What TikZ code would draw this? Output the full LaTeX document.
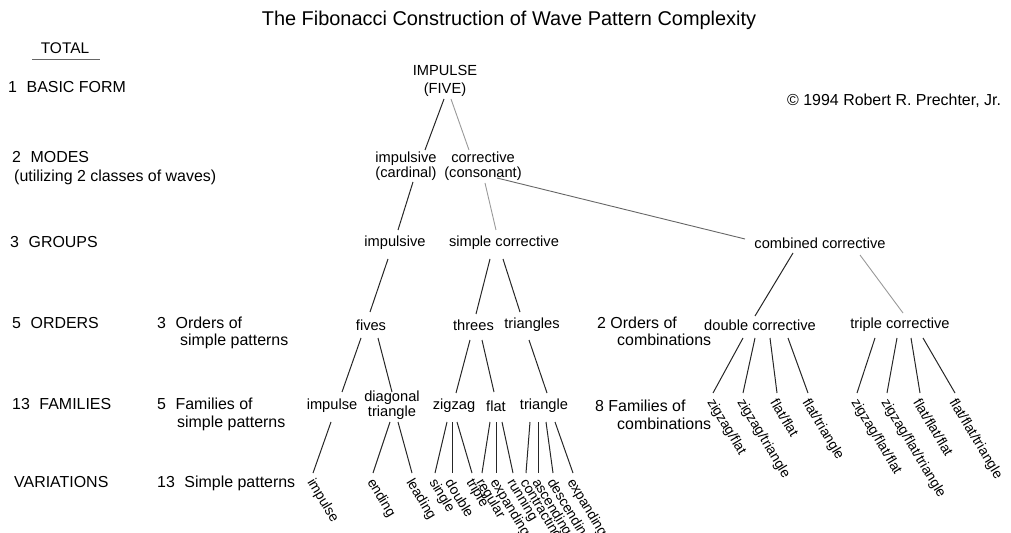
\documentclass[tikz,border=0pt]{standalone}
\usepackage{fontspec}
\setmainfont{Liberation Sans}
\usetikzlibrary{calc}
\newcommand\numgap{\hspace{0.6em}}
\begin{document}
\begin{tikzpicture}[x=1bp,y=-1bp,
  tree/.style={inner sep=0pt, align=center, font=\fontsize{14.7}{15}\selectfont},
  side/.style={anchor=base west, inner sep=0pt, font=\fontsize{16}{17}\selectfont},
  var/.style={anchor=west, inner sep=0pt, rotate=-59, font=\fontsize{14}{15}\selectfont},
  dk/.style={draw=black!85, line width=1bp},
  lt/.style={draw=black!40, line width=0.9bp},
  md/.style={draw=black!60, line width=0.9bp}]
\useasboundingbox (0,0) rectangle (1011,533);
% title and copyright
\node[inner sep=0pt, font=\fontsize{20}{22}\selectfont] (title) at (509,20) {The Fibonacci Construction of Wave Pattern Complexity};
\node[side] (copy) at (787,106) {\textcopyright\ 1994 Robert R. Prechter, Jr.};
% left column
\node[inner sep=0pt, font=\fontsize{15.5}{16}\selectfont] (total) at (65,48) {TOTAL};
\draw[md] ($(total)+(-33,11)$) -- ($(total)+(35,11)$);
\node[side] (l1) at (8,93) {1\numgap BASIC FORM};
\node[side] (l2) at (12,163) {2\numgap MODES};
\node[side] (l2b) at (14,182) {(utilizing 2 classes of waves)};
\node[side] (l3) at (10,248) {3\numgap GROUPS};
\node[side] (l5) at (12,329) {5\numgap ORDERS};
\node[side] (l5a) at (157,329) {3\numgap Orders of};
\node[side] (l5b) at (180,346) {simple patterns};
\node[side] (l13) at (12,409) {13\numgap FAMILIES};
\node[side] (l13a) at (157,409) {5\numgap Families of};
\node[side] (l13b) at (177,427) {simple patterns};
\node[side] (lv) at (14,487) {VARIATIONS};
\node[side] (lva) at (157,487) {13\numgap Simple patterns};
\node[side] (r5a) at (597,329) {2 Orders of};
\node[side] (r5b) at (617,346) {combinations};
\node[side] (r13a) at (595,411) {8 Families of};
\node[side] (r13b) at (617,429) {combinations};
% tree nodes
\node[tree, font=\fontsize{14.7}{18}\selectfont] (impulse5) at (445,81) {IMPULSE\\(FIVE)};
\node[tree] (impcard) at (406,166) {impulsive\\(cardinal)};
\node[tree] (corrcons) at (483,166) {corrective\\(consonant)};
\node[tree] (gimp) at (395,243) {impulsive};
\node[tree] (gsimple) at (504,243) {simple corrective};
\node[tree] (gcomb) at (820,243) {combined corrective};
\node[tree] (fives) at (371,325) {fives};
\node[tree] (threes) at (473.5,325) {threes};
\node[tree] (triangles) at (532,325) {triangles};
\node[tree] (odbl) at (760,325) {double corrective};
\node[tree] (otpl) at (900,325) {triple corrective};
\node[tree] (fimp) at (332,406) {impulse};
\node[tree, font=\fontsize{14.7}{13}\selectfont] (fdiag) at (392,405) {diagonal\\triangle};
\node[tree] (fzig) at (454,406) {zigzag};
\node[tree] (fflat) at (496,406) {flat};
\node[tree] (ftri) at (544,406) {triangle};
% variations
\node[var] (v1) at (310,480) {impulse};
\node[var] (v2) at (370,480) {ending};
\node[var] (v3) at (409,480) {leading};
\node[var] (v4) at (432,480) {single};
\node[var] (v5) at (449,480) {double};
\node[var] (v6) at (469,480) {triple};
\node[var] (v7) at (479,480) {regular};
\node[var] (v8) at (493,480) {expanding};
\node[var] (v9) at (510,480) {running};
\node[var] (v10) at (523,480) {contracting};
\node[var] (v11) at (535,480) {ascending};
\node[var] (v12) at (550,480) {descending};
\node[var] (v13) at (570,480) {expanding};
\node[var] (c1) at (710,400) {zigzag/flat};
\node[var] (c2) at (740,400) {zigzag/triangle};
\node[var] (c3) at (774,400) {flat/flat};
\node[var] (c4) at (805,400) {flat/triangle};
\node[var] (c5) at (854,400) {zigzag/flat/flat};
\node[var] (c6) at (884,400) {zigzag/flat/triangle};
\node[var] (c7) at (917,400) {flat/flat/flat};
\node[var] (c8) at (952,400) {flat/flat/triangle};
% connectors
\draw[dk] ($(impulse5)+(-1,18)$) -- ($(impcard)+(19,-16)$);
\draw[lt] ($(impulse5)+(6,18)$) -- ($(corrcons)+(-14,-16)$);
\draw[dk] ($(impcard)+(7,16)$) -- ($(gimp)+(3,-13)$);
\draw[lt] ($(corrcons)+(2,17)$) -- ($(gsimple)+(-8,-13)$);
\draw[md] ($(corrcons)+(14,12)$) -- ($(gcomb)+(-75,-4)$);
\draw[dk] ($(gimp)+(-7,16)$) -- ($(fives)+(-1,-13)$);
\draw[dk] ($(gsimple)+(-14,16)$) -- ($(threes)+(2.5,-11)$);
\draw[dk] ($(gsimple)+(-1,16)$) -- ($(triangles)+(-12,-13)$);
\draw[dk] ($(gcomb)+(-27,10)$) -- ($(odbl)+(-5,-9)$);
\draw[lt] ($(gcomb)+(40,12)$) -- ($(otpl)+(3,-12)$);
\draw[dk] ($(fives)+(-10,13)$) -- ($(fimp)+(10,-14)$);
\draw[dk] ($(fives)+(7,13)$) -- ($(fdiag)+(0,-13)$);
\draw[dk] ($(threes)+(-3.5,15)$) -- ($(fzig)+(2,-13)$);
\draw[dk] ($(threes)+(8.5,15)$) -- ($(fflat)+(-2,-14)$);
\draw[dk] ($(triangles)+(-3,15)$) -- ($(ftri)+(3,-13)$);
\draw[dk] ($(fimp)+(-1,16)$) -- ($(v1.west)+(3,-7)$);
\draw[dk] ($(fdiag)+(-2,17)$) -- ($(v2.west)+(3,-7)$);
\draw[dk] ($(fdiag)+(6,17)$) -- ($(v3.west)+(3,-7)$);
\draw[dk] ($(fzig)+(-7,16)$) -- ($(v4.west)+(3,-7)$);
\draw[dk] ($(fzig)+(-2,16)$) -- ($(v5.west)+(3,-7)$);
\draw[dk] ($(fzig)+(3,16)$) -- ($(v6.west)+(3,-7)$);
\draw[dk] ($(fflat)+(-6,16)$) -- ($(v7.west)+(3,-7)$);
\draw[dk] ($(fflat)+(0,16)$) -- ($(v8.west)+(3,-7)$);
\draw[dk] ($(fflat)+(6,16)$) -- ($(v9.west)+(3,-7)$);
\draw[dk] ($(ftri)+(-14,16)$) -- ($(v10.west)+(3,-7)$);
\draw[dk] ($(ftri)+(-6,16)$) -- ($(v11.west)+(3,-7)$);
\draw[dk] ($(ftri)+(2,16)$) -- ($(v12.west)+(3,-7)$);
\draw[dk] ($(ftri)+(11,16)$) -- ($(v13.west)+(3,-7)$);
\draw[dk] ($(odbl)+(-17,13)$) -- ($(c1.west)+(3,-7)$);
\draw[dk] ($(odbl)+(-5,13)$) -- ($(c2.west)+(3,-7)$);
\draw[dk] ($(odbl)+(10,13)$) -- ($(c3.west)+(3,-7)$);
\draw[dk] ($(odbl)+(28,13)$) -- ($(c4.west)+(3,-7)$);
\draw[dk] ($(otpl)+(-25,13)$) -- ($(c5.west)+(3,-7)$);
\draw[dk] ($(otpl)+(-3,13)$) -- ($(c6.west)+(3,-7)$);
\draw[dk] ($(otpl)+(11,13)$) -- ($(c7.west)+(3,-7)$);
\draw[dk] ($(otpl)+(23,13)$) -- ($(c8.west)+(3,-7)$);
\end{tikzpicture}
\end{document}
